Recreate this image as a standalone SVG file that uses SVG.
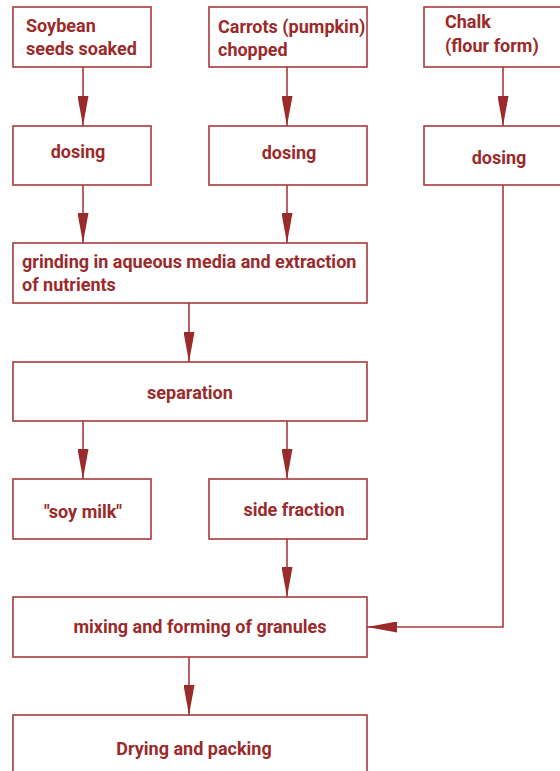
<svg xmlns="http://www.w3.org/2000/svg" width="560" height="771" viewBox="0 0 560 771">
<style>
.box{fill:#fff;stroke:#a83a3a;stroke-width:1.6}
.t{font-family:Roboto,"Liberation Sans",sans-serif;font-weight:bold;font-size:18px;fill:#9b2a2a}
.c{text-anchor:middle}
.ln{fill:none;stroke:#a83a3a;stroke-width:1.6}
</style>
<defs>
<marker id="ah" viewBox="0 0 30 11" refX="30" refY="5.5" markerWidth="30" markerHeight="11" markerUnits="userSpaceOnUse" orient="auto">
<path d="M0,0 L30,5.5 L0,11 Z" fill="#9b2a2a"/>
</marker>
</defs>
<rect width="560" height="771" fill="#fff"/>
<g id="connectors">
<path class="ln" d="M83,67 V126" marker-end="url(#ah)"/>
<path class="ln" d="M287,67 V126" marker-end="url(#ah)"/>
<path class="ln" d="M503,67 V126" marker-end="url(#ah)"/>
<path class="ln" d="M83,185 V243" marker-end="url(#ah)"/>
<path class="ln" d="M287,185 V243" marker-end="url(#ah)"/>
<path class="ln" d="M189,303 V362" marker-end="url(#ah)"/>
<path class="ln" d="M83,421 V479" marker-end="url(#ah)"/>
<path class="ln" d="M287,421 V479" marker-end="url(#ah)"/>
<path class="ln" d="M287,539 V597" marker-end="url(#ah)"/>
<path class="ln" d="M503,185 V627 H367" marker-end="url(#ah)"/>
<path class="ln" d="M189,657 V715" marker-end="url(#ah)"/>
</g>
<g id="soybean"><rect class="box" x="13" y="7" width="138" height="60"/><text class="t" x="26" y="32">Soybean</text><text class="t" x="26" y="55">seeds soaked</text></g>
<g id="carrots"><rect class="box" x="209" y="7" width="158" height="60"/><text class="t" x="218" y="33">Carrots (pumpkin)</text><text class="t" x="218" y="56">chopped</text></g>
<g id="chalk"><rect class="box" x="424" y="7" width="145" height="60"/><text class="t" x="445" y="28">Chalk</text><text class="t" x="445" y="52">(flour form)</text></g>
<g id="dosing1"><rect class="box" x="13" y="126" width="138" height="59"/><text class="t c" x="78" y="158">dosing</text></g>
<g id="dosing2"><rect class="box" x="209" y="126" width="158" height="59"/><text class="t c" x="289" y="159">dosing</text></g>
<g id="dosing3"><rect class="box" x="424" y="126" width="145" height="59"/><text class="t c" x="499" y="164">dosing</text></g>
<g id="grinding"><rect class="box" x="13" y="243" width="354" height="60"/><text class="t" x="22" y="268">grinding in aqueous media and extraction</text><text class="t" x="22" y="291">of nutrients</text></g>
<g id="separation"><rect class="box" x="13" y="362" width="354" height="59"/><text class="t c" x="190" y="399">separation</text></g>
<g id="soymilk"><rect class="box" x="13" y="479" width="138" height="60"/><text class="t c" x="83" y="518">"soy milk"</text></g>
<g id="side"><rect class="box" x="209" y="479" width="158" height="60"/><text class="t c" x="294" y="516">side fraction</text></g>
<g id="mixing"><rect class="box" x="13" y="597" width="354" height="60"/><text class="t c" x="200" y="633">mixing and forming of granules</text></g>
<g id="drying"><rect class="box" x="13" y="715" width="354" height="70"/><text class="t c" x="194" y="755">Drying and packing</text></g>
</svg>
